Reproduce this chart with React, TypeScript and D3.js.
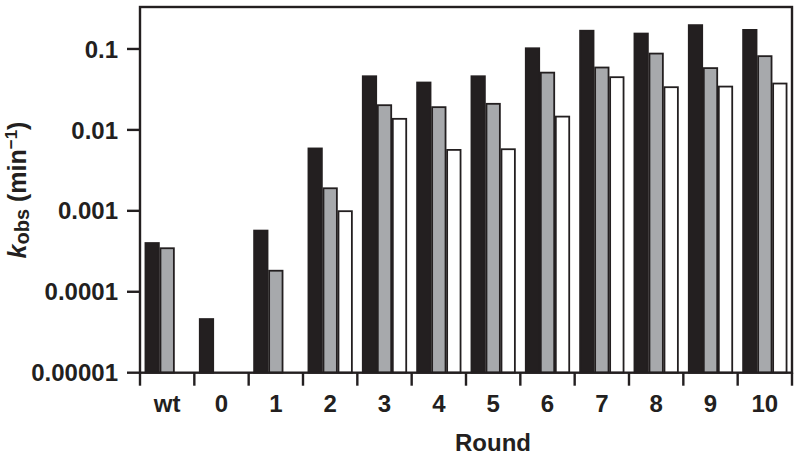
import React from "react";
import * as d3 from "d3";

const categories = ["wt", "0", "1", "2", "3", "4", "5", "6", "7", "8", "9", "10"];
const seriesNames = ["black", "gray", "white"];
const blackValues = [0.0004, 0.000046, 0.00057, 0.0059, 0.046, 0.0385, 0.046, 0.102, 0.168, 0.155, 0.197, 0.172];
const grayValues = [0.000345, null, 0.000182, 0.0019, 0.0202, 0.0191, 0.021, 0.051, 0.059, 0.0877, 0.058, 0.0815];
const whiteValues = [null, null, null, 0.00099, 0.0137, 0.00566, 0.00577, 0.0146, 0.0448, 0.0337, 0.0343, 0.0374];
const yTicks = [0.1, 0.01, 0.001, 0.0001, 0.00001];
const yTickLabels = ["0.1", "0.01", "0.001", "0.0001", "0.00001"];

const W = 800;
const H = 457;
const left = 140;
const right = 792;
const top = 7;
const bottom = 372.7;
const font = "'Liberation Sans', Arial, Helvetica, sans-serif";

export default function App() {
  const x = d3.scaleBand<string>().domain(categories).range([left, right]).padding(0);
  const inner = d3
    .scaleBand<string>()
    .domain(seriesNames)
    .range([0, x.bandwidth()])
    .paddingInner(0)
    .paddingOuter(0.31);
  const y = d3.scaleLog().domain([0.00001, 0.33]).range([bottom, top]);

  const series = [
    { name: "black", values: blackValues, fill: "#231f20", stroke: "#231f20" },
    { name: "gray", values: grayValues, fill: "#a7a9ac", stroke: "#231f20" },
    { name: "white", values: whiteValues, fill: "#ffffff", stroke: "#231f20" },
  ];

  const boundaries = categories.map((c) => x(c) as number).concat([right]);

  return (
    <svg
      width={W}
      height={H}
      style={{ position: "absolute", left: 0, top: 0, background: "#fff" }}
      fontFamily={font}
    >
      {series.map((s) =>
        s.values.map((v, i) => {
          if (v == null) return null;
          const x0 = (x(categories[i]) as number) + (inner(s.name) as number);
          const w = inner.bandwidth();
          const yv = y(v);
          return (
            <rect
              key={s.name + i}
              x={x0 + 0.8}
              y={yv}
              width={w - 1.6}
              height={bottom - yv}
              fill={s.fill}
              stroke={s.stroke}
              strokeWidth={1.8}
            />
          );
        })
      )}
      <rect
        x={left}
        y={top}
        width={right - left}
        height={bottom - top}
        fill="none"
        stroke="#231f20"
        strokeWidth={2.4}
      />
      {yTicks.map((t, i) => (
        <g key={"yt" + i}>
          <line x1={left - 13} x2={left} y1={y(t)} y2={y(t)} stroke="#231f20" strokeWidth={2.4} />
          <text
            x={118}
            y={y(t)}
            dy="0.36em"
            textAnchor="end"
            fontSize={24}
            fontWeight="bold"
            fill="#231f20"
          >
            {yTickLabels[i]}
          </text>
        </g>
      ))}
      {boundaries.map((b, i) => (
        <line key={"xt" + i} x1={b} x2={b} y1={bottom} y2={bottom + 13} stroke="#231f20" strokeWidth={2.4} />
      ))}
      {categories.map((c) => (
        <text
          key={"xl" + c}
          x={(x(c) as number) + x.bandwidth() / 2}
          y={412}
          textAnchor="middle"
          fontSize={24}
          fontWeight="bold"
          fill="#231f20"
        >
          {c}
        </text>
      ))}
      <text x={493} y={451} textAnchor="middle" fontSize={24} fontWeight="bold" fill="#231f20">
        Round
      </text>
      <text
        transform="translate(26,190) rotate(-90)"
        textAnchor="middle"
        fontSize={25}
        fontWeight="bold"
        fill="#231f20"
      >
        <tspan fontStyle="italic">k</tspan>
        <tspan fontSize={20} dy={3}>obs</tspan>
        <tspan dy={-3}>{" (min"}</tspan>
        <tspan fontSize={17} dy={-9}>{"\u22121"}</tspan>
        <tspan dy={9}>)</tspan>
      </text>
    </svg>
  );
}
